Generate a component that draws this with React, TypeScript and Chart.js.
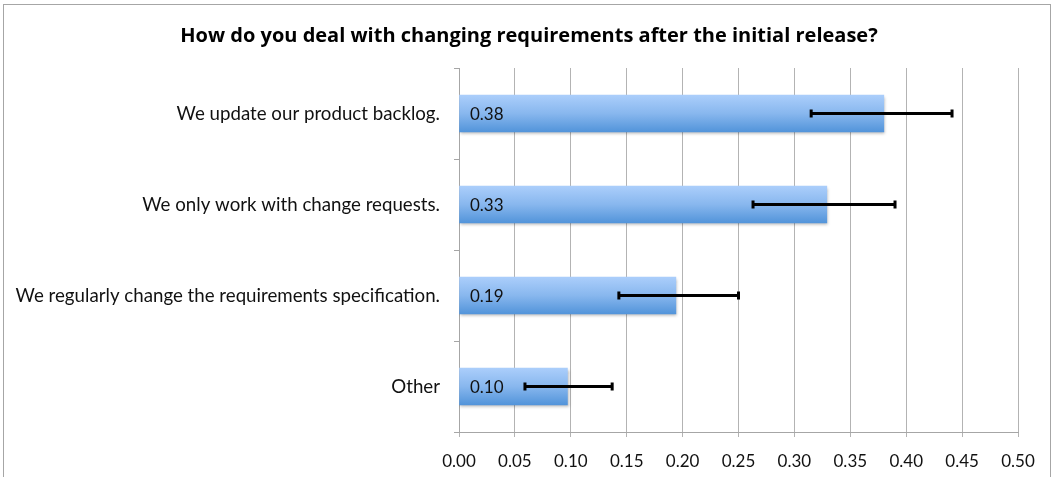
import { useEffect, useRef } from 'react';
import { Chart, registerables } from 'chart.js';

Chart.register(...registerables);

const chartTitle = 'How do you deal with changing requirements after the initial release?';
const categories = [
  'We update our product backlog.',
  'We only work with change requests.',
  'We regularly change the requirements specification.',
  'Other',
];
const shares = [0.38, 0.329, 0.194, 0.097];
const errorLow = [0.315, 0.263, 0.143, 0.059];
const errorHigh = [0.441, 0.39, 0.25, 0.137];
const xMin = 0;
const xMax = 0.5;
const xStep = 0.05;

const FONT = 'Lato, "Open Sans", "DejaVu Sans", sans-serif';
const TITLE_FONT = '"Open Sans", Lato, "DejaVu Sans", sans-serif';
const BAR_THICKNESS = 37;

export default function App() {
  const canvasRef = useRef<HTMLCanvasElement | null>(null);

  useEffect(() => {
    const canvas = canvasRef.current;
    if (!canvas) return;

    const overlay = {
      id: 'overlay',
      beforeDatasetsDraw(chart: any) {
        const ctx = chart.ctx;
        ctx.save();
        ctx.shadowColor = 'rgba(0,0,0,0.28)';
        ctx.shadowBlur = 3;
        ctx.shadowOffsetX = 1;
        ctx.shadowOffsetY = 2;
      },
      afterDatasetsDraw(chart: any) {
        const ctx = chart.ctx;
        ctx.restore();
        const xs = chart.scales.x;
        const ys = chart.scales.y;
        // error bars
        ctx.save();
        ctx.strokeStyle = '#000';
        ctx.lineWidth = 3;
        ctx.lineCap = 'butt';
        for (let i = 0; i < shares.length; i++) {
          const y = ys.getPixelForValue(i);
          const x1 = xs.getPixelForValue(errorLow[i]);
          const x2 = xs.getPixelForValue(errorHigh[i]);
          ctx.beginPath();
          ctx.moveTo(x1, y);
          ctx.lineTo(x2, y);
          ctx.stroke();
          ctx.beginPath();
          ctx.moveTo(x1, y - 4);
          ctx.lineTo(x1, y + 4);
          ctx.moveTo(x2, y - 4);
          ctx.lineTo(x2, y + 4);
          ctx.stroke();
        }
        ctx.restore();
        // data labels
        ctx.save();
        ctx.fillStyle = '#111';
        ctx.font = `17px ${FONT}`;
        ctx.textAlign = 'left';
        ctx.textBaseline = 'middle';
        const x0 = xs.getPixelForValue(0);
        for (let i = 0; i < shares.length; i++) {
          const y = ys.getPixelForValue(i);
          ctx.fillText(shares[i].toFixed(2), x0 + 11, y + 1);
        }
        ctx.restore();
        // title
        ctx.save();
        ctx.fillStyle = '#000';
        ctx.font = `bold 20px ${TITLE_FONT}`;
        ctx.textAlign = 'center';
        ctx.textBaseline = 'alphabetic';
        ctx.fillText(chartTitle, 529, 42);
        ctx.restore();
      },
    };

    const chart = new Chart(canvas, {
      type: 'bar',
      data: {
        labels: categories,
        datasets: [
          {
            data: shares,
            barThickness: BAR_THICKNESS,
            borderWidth: 0,
            backgroundColor: (c: any) => {
              const ch = c.chart;
              const ys = ch.scales && ch.scales.y;
              if (!ys || c.dataIndex === undefined) return '#7fb0ea';
              const y = ys.getPixelForValue(c.dataIndex);
              if (!Number.isFinite(y)) return '#7fb0ea';
              const g = ch.ctx.createLinearGradient(0, y - BAR_THICKNESS / 2, 0, y + BAR_THICKNESS / 2);
              g.addColorStop(0, '#abcefb');
              g.addColorStop(0.5, '#88b7ee');
              g.addColorStop(1, '#5294da');
              return g;
            },
          },
        ],
      },
      options: {
        indexAxis: 'y',
        responsive: false,
        animation: false,
        maintainAspectRatio: false,
        layout: { padding: { left: 0, top: 68, right: 36, bottom: 0 } },
        plugins: {
          legend: { display: false },
          title: { display: false },
          tooltip: { enabled: false },
        },
        scales: {
          x: {
            type: 'linear',
            min: xMin,
            max: xMax,
            ticks: {
              stepSize: xStep,
              color: '#111',
              font: { family: FONT, size: 17 },
              padding: 14,
              maxRotation: 0,
              callback: (v: any) => Number(v).toFixed(2),
            },
            grid: {
              color: '#b3b3b3',
              lineWidth: 1,
              tickLength: 5,
              drawTicks: true,
            },
            border: { display: true, color: '#a6a6a6', width: 1 },
            afterFit: (s: any) => {
              s.height = 45;
            },
          },
          y: {
            type: 'category',
            offset: true,
            ticks: {
              color: '#111',
              font: { family: FONT, size: 18.7 },
              padding: 14,
            },
            grid: {
              offset: true,
              drawOnChartArea: false,
              drawTicks: true,
              tickLength: 5,
              color: '#a6a6a6',
            },
            border: { display: true, color: '#a6a6a6', width: 1 },
            afterFit: (s: any) => {
              s.width = 459;
            },
          },
        },
      },
      plugins: [overlay],
    });
    chart.update();

    return () => chart.destroy();
  }, []);

  return (
    <div style={{ position: 'absolute', left: 0, top: 0, width: 1054, height: 477, overflow: 'hidden', background: '#fff' }}>
      <div
        style={{
          position: 'absolute',
          left: 3,
          top: 4,
          width: 1048,
          height: 520,
          border: '1px solid #a6a6a6',
          boxSizing: 'border-box',
        }}
      />
      <canvas ref={canvasRef} width={1054} height={477} style={{ position: 'absolute', left: 0, top: 0, width: 1054, height: 477 }} />
    </div>
  );
}
